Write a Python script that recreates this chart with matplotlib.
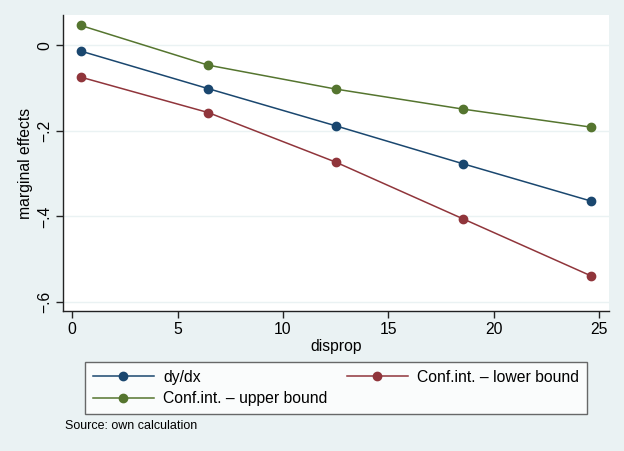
import matplotlib
matplotlib.use("Agg")
import matplotlib.pyplot as plt
from matplotlib.ticker import FuncFormatter

plt.rcParams['font.family'] = ['Liberation Sans', 'DejaVu Sans']

# data
disprop = [0.4, 6.45, 12.5, 18.55, 24.6]
dydx = [-0.013, -0.101, -0.188, -0.277, -0.364]
ci_lower = [-0.074, -0.157, -0.273, -0.406, -0.539]
ci_upper = [0.047, -0.046, -0.102, -0.149, -0.191]

x_ticks = [0, 5, 10, 15, 20, 25]
y_ticks = [0, -0.2, -0.4, -0.6]

bg = '#eaf2f3'
navy = '#1a476f'
maroon = '#90353b'
green = '#55752f'

fig = plt.figure(figsize=(6.24, 4.51), dpi=100, facecolor=bg)
ax = fig.add_axes([63/624, 1 - 311/451, 546/624, 296/451])
ax.set_facecolor('white')

for yv in y_ticks:
    ax.axhline(yv, color=bg, lw=1.0, zorder=0)

l1, = ax.plot(disprop, dydx, color=navy, lw=1.1, marker='o', ms=6, label='dy/dx')
l2, = ax.plot(disprop, ci_lower, color=maroon, lw=1.1, marker='o', ms=6,
              label='Conf.int. \u2013 lower bound')
l3, = ax.plot(disprop, ci_upper, color=green, lw=1.1, marker='o', ms=6,
              label='Conf.int. \u2013 upper bound')

ax.set_xlim(-0.44, 25.47)
ax.set_ylim(-0.6216, 0.0714)
ax.set_xticks(x_ticks)
ax.set_yticks(y_ticks)

def ylab(v, pos):
    if abs(v) < 1e-9:
        return '0'
    s = ('%g' % v).replace('0.', '.').replace('-', '\u2212')
    return s

ax.yaxis.set_major_formatter(FuncFormatter(ylab))
ax.tick_params(axis='y', labelrotation=90, length=5, width=1, pad=3,
               labelsize=11.3, color='#222222')
for t in ax.get_yticklabels():
    t.set_va('center')
ax.tick_params(axis='x', length=5, width=1, pad=3, labelsize=11.3, color='#222222')

for side in ['top', 'right']:
    ax.spines[side].set_visible(False)
for side in ['left', 'bottom']:
    ax.spines[side].set_color('#222222')
    ax.spines[side].set_linewidth(1.0)

ax.set_xlabel('disprop', fontsize=11.3, labelpad=1)
ax.set_ylabel('marginal effects', fontsize=11.3, labelpad=3)

leg = fig.legend([l1, l3, l2], [l1.get_label(), l3.get_label(), l2.get_label()],
                 ncol=2, mode='expand',
                 bbox_to_anchor=(85/624, 1 - 414/451, 502/624, 51/451),
                 loc='lower left', fontsize=11.3, frameon=True, fancybox=False,
                 handlelength=3.9, handletextpad=0.6, borderpad=0.5,
                 labelspacing=0.42, borderaxespad=0)
leg.get_frame().set_edgecolor('#444444')
leg.get_frame().set_linewidth(1.0)

fig.text(65/624, 1 - 426/451, 'Source: own calculation', fontsize=9, va='center')

fig.savefig('out.png', dpi=100, facecolor=bg)
